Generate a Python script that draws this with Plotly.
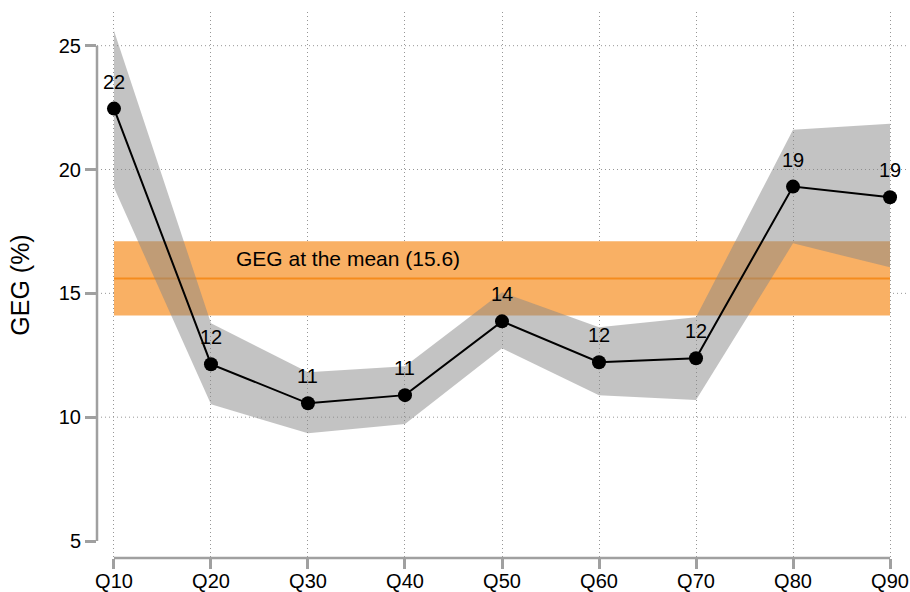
import plotly.graph_objects as go

# Gender earnings gap by quantile, with 95% confidence band
quantiles = ["Q10", "Q20", "Q30", "Q40", "Q50", "Q60", "Q70", "Q80", "Q90"]
geg = [22.46, 12.14, 10.56, 10.89, 13.87, 12.22, 12.38, 19.31, 18.88]
ci_upper = [25.6, 13.79, 11.81, 12.06, 15.04, 13.63, 14.03, 21.61, 21.85]
ci_lower = [19.27, 10.52, 9.35, 9.72, 12.78, 10.89, 10.69, 17.02, 16.05]

# GEG at the mean and its confidence interval
mean_geg = 15.6
mean_lower = 14.11
mean_upper = 17.1

y_ticks = [5, 10, 15, 20, 25]
y_grid = [10, 15, 20, 25]

FONT = "Liberation Sans, Arial, Helvetica, sans-serif"
AXIS_GREY = "rgb(160,160,160)"
GRID_GREY = "rgb(150,150,150)"

fig = go.Figure()

# Mean band (orange)
fig.add_trace(go.Scatter(x=quantiles, y=[mean_upper] * len(quantiles), mode="lines",
                         line=dict(width=0), hoverinfo="skip", showlegend=False))
fig.add_trace(go.Scatter(x=quantiles, y=[mean_lower] * len(quantiles), mode="lines",
                         line=dict(width=0), fill="tonexty",
                         fillcolor="rgb(249,176,100)", hoverinfo="skip", showlegend=False))
fig.add_trace(go.Scatter(x=quantiles, y=[mean_geg] * len(quantiles), mode="lines",
                         line=dict(color="rgb(245,140,30)", width=2),
                         hoverinfo="skip", showlegend=False))

# Quantile confidence band (translucent grey)
fig.add_trace(go.Scatter(x=quantiles, y=ci_upper, mode="lines",
                         line=dict(width=0), hoverinfo="skip", showlegend=False))
fig.add_trace(go.Scatter(x=quantiles, y=ci_lower, mode="lines",
                         line=dict(width=0), fill="tonexty",
                         fillcolor="rgba(135,135,135,0.5)", hoverinfo="skip", showlegend=False))

# Point estimates
fig.add_trace(go.Scatter(x=quantiles, y=geg, mode="lines+markers",
                         line=dict(color="black", width=2),
                         marker=dict(color="black", size=14),
                         showlegend=False))

annotations = []
for q, v in zip(quantiles, geg):
    annotations.append(dict(x=q, y=v, text=str(int(round(v))), showarrow=False,
                            xanchor="center", yanchor="middle", yshift=27,
                            font=dict(family=FONT, size=20, color="black")))
annotations.append(dict(x=1.24, y=16.41, xref="x", yref="y",
                        text=f"GEG at the mean ({mean_geg:.1f})", showarrow=False,
                        xanchor="left", yanchor="middle",
                        font=dict(family=FONT, size=21, color="black")))

shapes = []
for g in y_grid:
    shapes.append(dict(type="line", xref="paper", x0=0, x1=1, yref="y", y0=g, y1=g,
                       line=dict(color=GRID_GREY, width=1, dash="1px,3px"), layer="below"))
# Detached axis lines
shapes.append(dict(type="line", xref="paper", x0=0, x1=0, yref="y", y0=y_ticks[0], y1=y_ticks[-1],
                   line=dict(color=AXIS_GREY, width=2.5)))
shapes.append(dict(type="line", xref="x", x0=quantiles[0], x1=quantiles[-1], yref="paper", y0=0, y1=0,
                   line=dict(color=AXIS_GREY, width=2.5)))

fig.update_layout(
    width=910, height=592,
    margin=dict(l=97, r=3, t=12, b=34),
    paper_bgcolor="white", plot_bgcolor="white",
    font=dict(family=FONT, size=20, color="black"),
    annotations=annotations,
    shapes=shapes,
    xaxis=dict(type="category", range=[-0.175, 8.175], showline=False, zeroline=False,
               automargin=False,
               showgrid=True, gridcolor=GRID_GREY, gridwidth=1, griddash="1px,3px",
               ticks="outside", ticklen=10, tickwidth=2.5, tickcolor=AXIS_GREY,
               ticklabelstandoff=-5,
               tickfont=dict(family=FONT, size=20, color="black")),
    yaxis=dict(range=[4.314, 26.36], tickvals=y_ticks, showline=False, zeroline=False,
               automargin=False, showgrid=False,
               ticks="outside", ticklen=11, tickwidth=2.5, tickcolor=AXIS_GREY,
               tickfont=dict(family=FONT, size=20, color="black"),
               title=dict(text="GEG (%)", font=dict(family=FONT, size=25, color="black"),
                          standoff=22)),
)

fig.write_html("out.html")
